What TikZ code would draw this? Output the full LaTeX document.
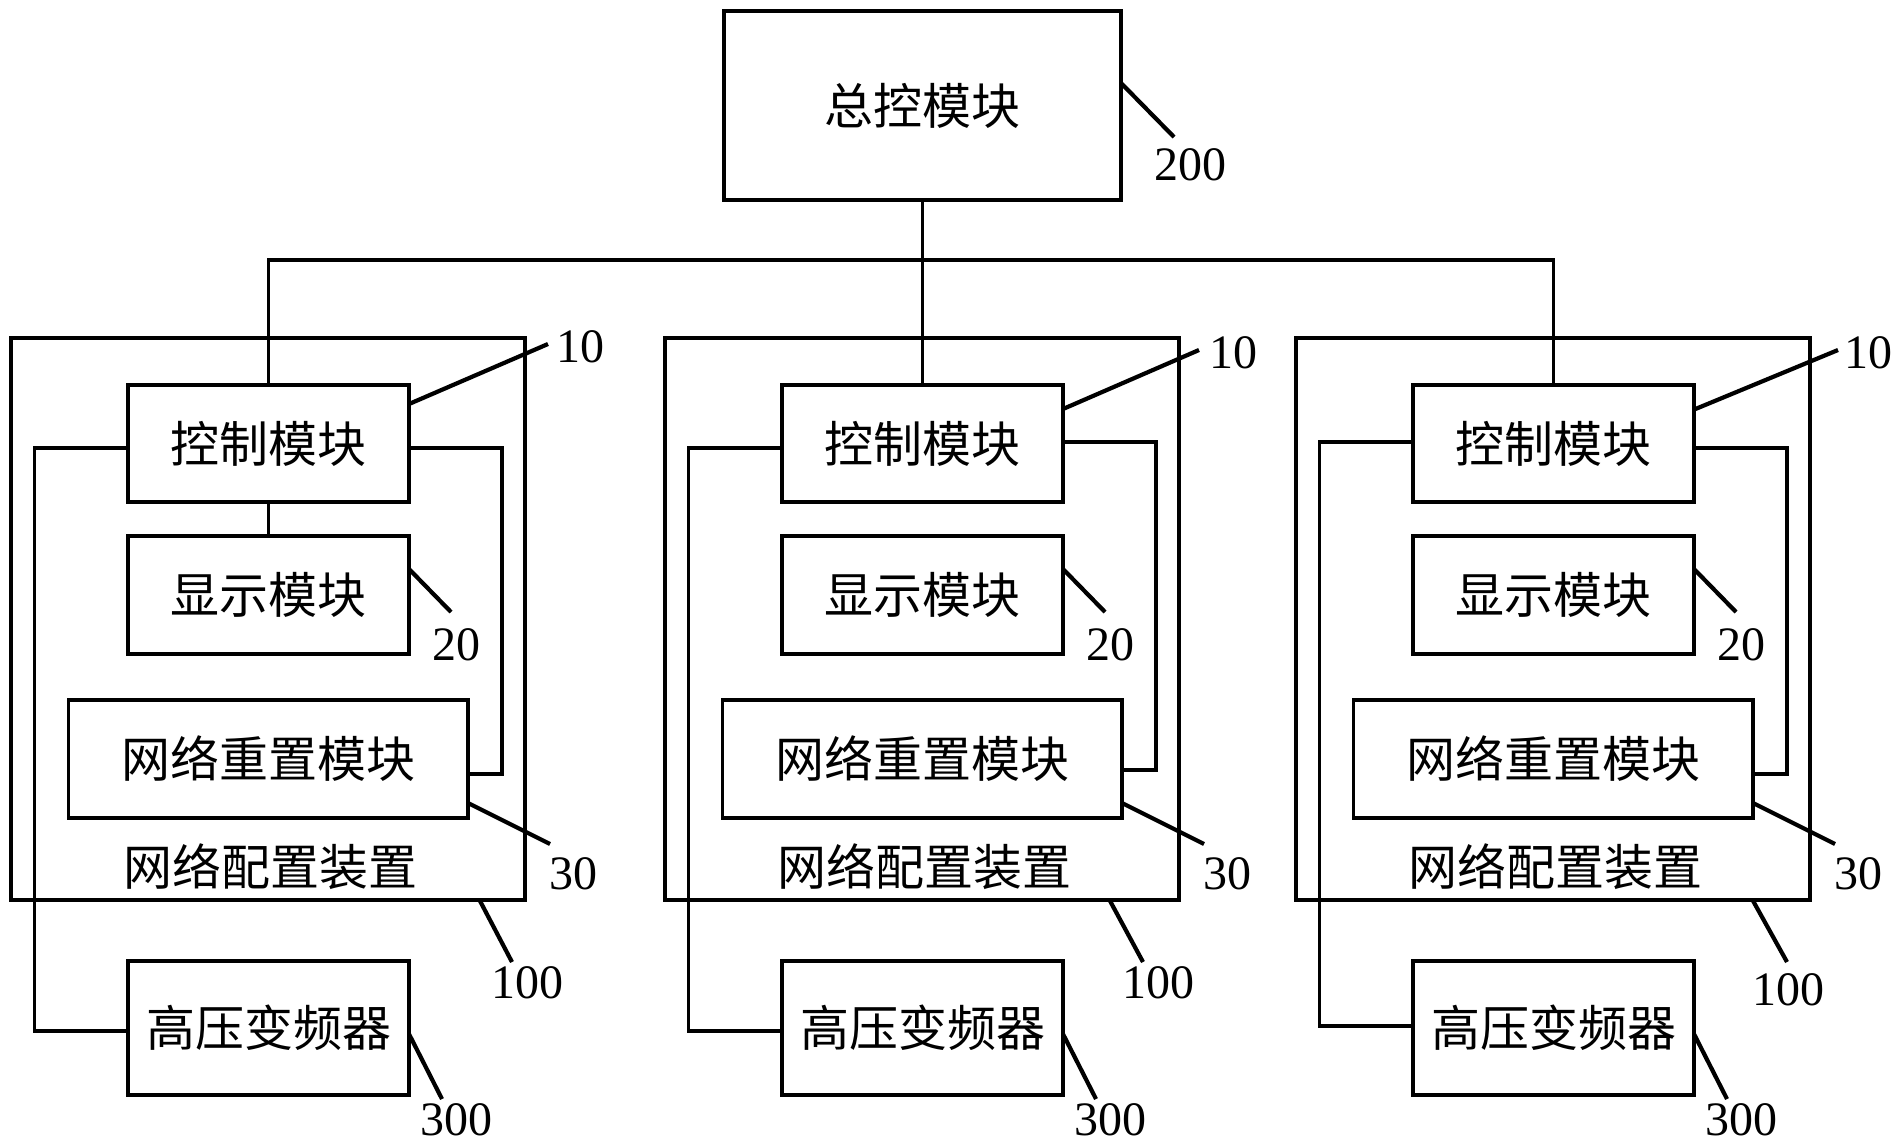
\documentclass[tikz,border=0pt]{standalone}
\usepackage{fontspec}
\newfontfamily\cjk{Noto Sans CJK SC}
\newfontfamily\numfont{Liberation Serif}
\begin{document}
\begin{tikzpicture}[x=0.5pt,y=-0.5pt,
  box/.style={draw, line width=1.7pt, inner sep=0pt, outer sep=0pt, font=\cjk\fontsize{24.5}{28}\selectfont},
  wire/.style={line width=1.6pt},
  lead/.style={line width=2.1pt},
  num/.style={inner sep=0pt, font=\numfont\fontsize{24}{28}\selectfont},
  txt/.style={inner sep=0pt, font=\cjk\fontsize{24.5}{28}\selectfont}]
\useasboundingbox (0,0) rectangle (1899,1147);
% top module
\node[box, minimum width=198.5pt, minimum height=94.5pt] (T) at (922.5,105.5) {总控模块};
\draw[lead] (1121,83) -- (1174,137);
\node[num] (L200) at (1190,165) {200};
% blocks
\foreach \o/\n/\ya/\yb/\yr/\yh in {0/a/-2.25pt/-2.25pt/-7.5pt/-1.5pt, 654/b/-2.25pt/0.75pt/-5.5pt/-1.5pt, 1285/c/0.75pt/-2.25pt/-7.5pt/1pt}{
  \node[box, minimum width=257pt, minimum height=281pt] (O\n) at (268+\o,619) {};
  \node[box, minimum width=140.5pt, minimum height=58.5pt] (C\n) at (268.5+\o,443.5) {控制模块};
  \node[box, minimum width=140.5pt, minimum height=59pt] (D\n) at (268.5+\o,595) {显示模块};
  \node[box, minimum width=199.75pt, minimum height=59pt] (R\n) at (268.25+\o,759) {网络重置模块};
  \node[txt] (N\n) at (270+\o,867) {网络配置装置};
  \node[box, minimum width=140.5pt, minimum height=67pt] (H\n) at (268.5+\o,1028) {高压变频器};
  \draw[wire] ([yshift=\ya]C\n.west) -| (34.5+\o,700) |- ([yshift=\yh]H\n.west);
  \draw[wire] ([yshift=\yb]C\n.east) -| (502+\o,600) |- ([yshift=\yr]R\n.east);
  \draw[lead] (409+\o,569) -- (451+\o,612);
  \node[num] (L20\n) at (456+\o,645) {20};
  \draw[lead] (468+\o,803) -- (550+\o,844);
  \node[num] (L30\n) at (573+\o,874) {30};
  \draw[lead] (409+\o,1034) -- (442+\o,1099);
  \node[num] (L300\n) at (456+\o,1120) {300};
}
\draw[wire] (Ca.south) -- (Da.north);
% leaders 10 and 100
\draw[lead] (409,404) -- (548,344);
\node[num] (L10a) at (580,347) {10};
\draw[lead] (1063,409) -- (1199,350);
\node[num] (L10b) at (1233,353) {10};
\draw[lead] (1693,410) -- (1838,350);
\node[num] (L10c) at (1868,353) {10};
\draw[lead] (479,899) -- (512,962);
\node[num] (L100a) at (527,983) {100};
\draw[lead] (1109,899) -- (1143,962);
\node[num] (L100b) at (1158,983) {100};
\draw[lead] (1752,899) -- (1787,962);
\node[num] (L100c) at (1788,990) {100};
% bus
\coordinate (J1) at (268.5,260);
\coordinate (J3) at (1553.5,260);
\draw[wire] (T.south) -- (Cb.north);
\draw[wire] (Ca.north) -- (J1) -- (J3) -- (Cc.north);
\end{tikzpicture}
\end{document}
